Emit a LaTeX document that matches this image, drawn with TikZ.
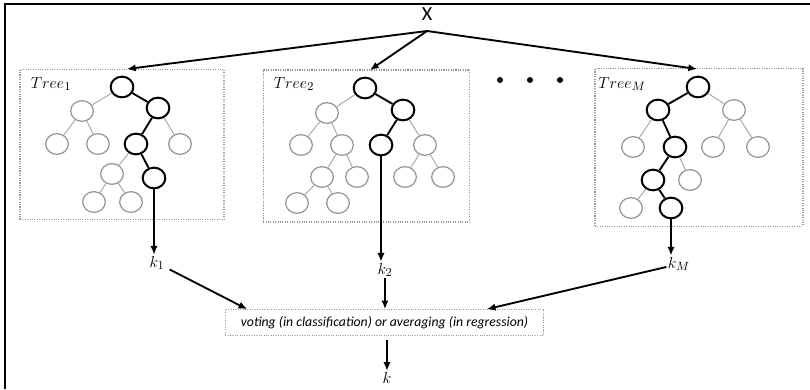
\documentclass[tikz,border=0pt]{standalone}
\usepackage{fontspec}
\newfontfamily\calibri{Carlito}
\usetikzlibrary{shapes.geometric,arrows.meta}

\begin{document}
\begin{tikzpicture}[x=0.75pt,y=-0.75pt,
        leafnode/.style={ellipse, draw=gray!85, line width=0.9pt, minimum width=17pt, minimum height=15.5pt, inner sep=0pt},
        pathnode/.style={ellipse, draw=black, line width=1.5pt, minimum width=17pt, minimum height=15.5pt, inner sep=0pt},
        treebox/.style={draw=gray!80, densely dotted, line width=0.8pt, inner sep=0pt, outer sep=0pt},
        thinedge/.style={gray!70, line width=0.7pt},
        boldedge/.style={black, line width=1.4pt},
        arr/.style={-{Latex[length=6.5pt,width=5.5pt]}, black, line width=1.4pt},
        lbl/.style={inner sep=1pt, font=\fontsize{13}{13}\selectfont},
        dotnode/.style={circle, fill=black, inner sep=0pt, minimum size=4.5pt},
        ]
                \useasboundingbox (0,0) rectangle (810,389);
                \draw[black, line width=1.5pt] (5,389) -- (5,4) -- (810,4);

                \node[lbl, font=\calibri\fontsize{15}{15}\selectfont] at(427,14) (x) {X};
                \coordinate (xs) at (427,31);

                % boxes
                \node[treebox, minimum width=153pt, minimum height=113pt] at(122,144.5) (box1) {};
                \node[treebox, minimum width=155pt, minimum height=114pt] at(366.5,146) (box2) {};
                \node[treebox, minimum width=156pt, minimum height=118pt] at(699,147.5) (boxm) {};
                \node[lbl] at(51,84) (lab1) {$Tree_1$};
                \node[lbl] at(294,84) (lab2) {$Tree_2$};
                \node[lbl] at(622,84) (labm) {$Tree_M$};
                \coordinate (in1) at (127,69);
                \coordinate (in2) at (370,70);
                \coordinate (inm) at (697,69);

                \draw[arr] (xs) -- (in1);
                \draw[arr] (xs) -- (in2);
                \draw[arr] (xs) -- (inm);

                \foreach \i/\px in {1/500,2/530,3/560}
                    \node[dotnode] at(\px,80) (d\i) {};

                % tree 1
                \node[pathnode] at(122,87) (t1a) {};
                \node[leafnode] at(82,111) (t1b) {};
                \node[pathnode] at(158,108) (t1c) {};
                \node[leafnode] at(57,144) (t1d) {};
                \node[leafnode] at(98,144) (t1e) {};
                \node[pathnode] at(136,144) (t1f) {};
                \node[leafnode] at(180,144) (t1g) {};
                \node[leafnode] at(112,174) (t1h) {};
                \node[pathnode] at(154,178) (t1i) {};
                \node[leafnode] at(94,202) (t1j) {};
                \node[leafnode] at(131,202) (t1k) {};

                \draw[thinedge] (t1a) -- (t1b);
                \draw[boldedge] (t1a) -- (t1c);
                \draw[thinedge] (t1b) -- (t1d);
                \draw[thinedge] (t1b) -- (t1e);
                \draw[boldedge] (t1c) -- (t1f);
                \draw[thinedge] (t1c) -- (t1g);
                \draw[thinedge] (t1f) -- (t1h);
                \draw[boldedge] (t1f) -- (t1i);
                \draw[thinedge] (t1h) -- (t1j);
                \draw[thinedge] (t1h) -- (t1k);

                % tree 2
                \node[pathnode] at(365,88) (t2a) {};
                \node[leafnode] at(327,113) (t2b) {};
                \node[pathnode] at(403,110) (t2c) {};
                \node[leafnode] at(301,145) (t2d) {};
                \node[leafnode] at(342,145) (t2e) {};
                \node[pathnode] at(381,145) (t2f) {};
                \node[leafnode] at(425,145) (t2g) {};
                \node[leafnode] at(322,177) (t2h) {};
                \node[leafnode] at(357,177) (t2i) {};
                \node[leafnode] at(405,177) (t2j) {};
                \node[leafnode] at(443,177) (t2k) {};
                \node[leafnode] at(297,203) (t2l) {};
                \node[leafnode] at(338,203) (t2m) {};

                \draw[thinedge] (t2a) -- (t2b);
                \draw[boldedge] (t2a) -- (t2c);
                \draw[thinedge] (t2b) -- (t2d);
                \draw[thinedge] (t2b) -- (t2e);
                \draw[thinedge] (t2e) -- (t2h);
                \draw[thinedge] (t2e) -- (t2i);
                \draw[thinedge] (t2h) -- (t2l);
                \draw[thinedge] (t2h) -- (t2m);
                \draw[boldedge] (t2c) -- (t2f);
                \draw[thinedge] (t2c) -- (t2g);
                \draw[thinedge] (t2g) -- (t2j);
                \draw[thinedge] (t2g) -- (t2k);

                % tree M
                \node[pathnode] at(698,87) (tma) {};
                \node[pathnode] at(658,110) (tmb) {};
                \node[leafnode] at(734,110) (tmc) {};
                \node[leafnode] at(633,147) (tmd) {};
                \node[pathnode] at(675,147) (tme) {};
                \node[leafnode] at(713,147) (tmf) {};
                \node[leafnode] at(758,147) (tmg) {};
                \node[pathnode] at(653,180) (tmh) {};
                \node[leafnode] at(690,180) (tmi) {};
                \node[leafnode] at(631,208) (tmj) {};
                \node[pathnode] at(671,208) (tmk) {};

                \draw[boldedge] (tma) -- (tmb);
                \draw[thinedge] (tma) -- (tmc);
                \draw[thinedge] (tmb) -- (tmd);
                \draw[boldedge] (tmb) -- (tme);
                \draw[thinedge] (tmc) -- (tmf);
                \draw[thinedge] (tmc) -- (tmg);
                \draw[boldedge] (tme) -- (tmh);
                \draw[thinedge] (tme) -- (tmi);
                \draw[thinedge] (tmh) -- (tmj);
                \draw[boldedge] (tmh) -- (tmk);

                % outputs
                \node[lbl] at(157,263) (k1) {$k_1$};
                \node[lbl] at(385,270) (k2) {$k_2$};
                \node[lbl] at(679,264) (km) {$k_M$};
                \node[treebox, minimum width=239pt, minimum height=20pt, font=\calibri\itshape\fontsize{10.3}{10.3}\selectfont] at(384.5,322.5) (vote) {voting (in classification) or averaging (in regression)};
                \node[lbl] at(387,378) (k) {$k$};

                \draw[arr] (t1i) -- (t1i |- k1.north);
                \draw[arr] (t2f) -- (t2f |- k2.north);
                \draw[arr] (tmk) -- (tmk |- km.north);
                \draw[arr, shorten <=3pt] (k1) -- ([xshift=16.5pt]vote.north west);
                \draw[arr] (k2) -- (k2 |- vote.north);
                \draw[arr] (km) -- ([xshift=-42.75pt]vote.north east);
                \draw[arr, shorten <=3pt] (vote.south -| k) -- (k);
            \end{tikzpicture}
\end{document}
